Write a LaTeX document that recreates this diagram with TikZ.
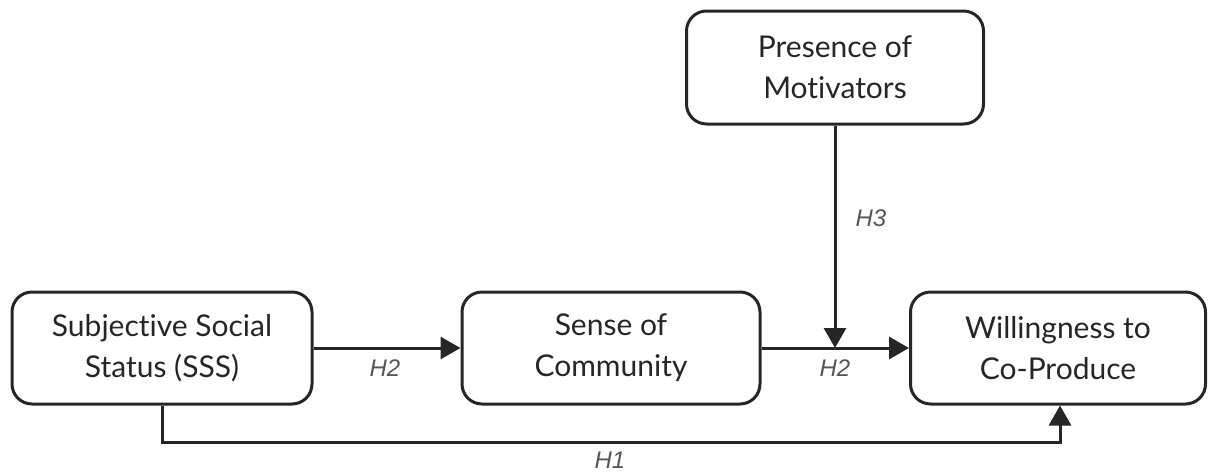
\documentclass[tikz,border=0pt]{standalone}
\usepackage{fontspec}
\setmainfont{Lato}[Ligatures={NoCommon}]
\newfontfamily\labfont{Liberation Sans}
\usetikzlibrary{arrows.meta}
\definecolor{ink}{HTML}{262626}
\definecolor{labc}{HTML}{555555}
\begin{document}
\begin{tikzpicture}[x=1pt,y=-1pt,
  boxst/.style={draw=ink,line width=3pt,rounded corners=20pt,fill=white,inner sep=0pt,
    align=center,font=\fontsize{30}{41}\selectfont,text=ink},
  conn/.style={draw=ink,line width=3pt,-{Triangle[length=20pt,width=22pt]}},
  lab/.style={font=\labfont\itshape\fontsize{24}{28}\selectfont,text=labc}]
\useasboundingbox (0,0) rectangle (1208,472);
\node[boxst,minimum width=300pt,minimum height=112pt] (sss) at (162,348) {Subjective Social\\Status (SSS)};
\node[boxst,minimum width=298pt,minimum height=112pt] (soc) at (611,348) {Sense of\\Community};
\node[boxst,minimum width=295pt,minimum height=112pt] (wtc) at (1058,348) {Willingness to\\Co-Produce};
\node[boxst,minimum width=297pt,minimum height=113pt] (pom) at (835,67.5) {Presence of\\Motivators};
\coordinate (m) at (835,348);
\coordinate (b1) at (162,442);
\coordinate (b2) at (1060,442);
\draw[conn] (sss.east) -- (soc.west);
\draw[conn] (soc.east) -- (wtc.west);
\draw[conn] (pom.south) -- (m);
\draw[conn,rounded corners=0pt] (sss.south) -- (b1) -- (b2) -- (wtc.south -| b2);
\node[lab] (h2a) at (385,368) {H2};
\node[lab] (h2b) at (835,368) {H2};
\node[lab] (h3) at (871,218) {H3};
\node[lab] (h1) at (610,460) {H1};
\end{tikzpicture}
\end{document}
